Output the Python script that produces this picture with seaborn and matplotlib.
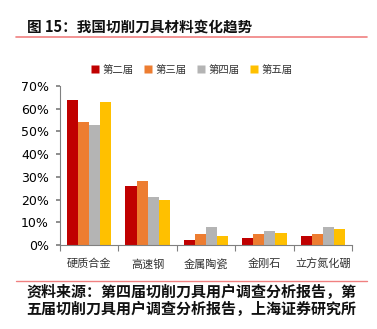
import matplotlib
matplotlib.use("Agg")
import matplotlib.pyplot as plt
import seaborn as sns
import pandas as pd
from matplotlib.lines import Line2D
from matplotlib.ticker import PercentFormatter, FixedLocator

categories = ["硬质合金", "高速钢", "金属陶瓷", "金刚石", "立方氮化硼"]
series = ["第二届", "第三届", "第四届", "第五届"]
v2 = [64, 26, 2, 3, 4]
v3 = [54, 28, 5, 5, 5]
v4 = [53, 21, 8, 6, 8]
v5 = [63, 20, 4, 5.5, 7]
colors = ["#C00000", "#ED7D31", "#B4B4B4", "#FFC000"]

rows = []
for s, vals in zip(series, [v2, v3, v4, v5]):
    for c, v in zip(categories, vals):
        rows.append({"cat": c, "ser": s, "val": v / 100})
df = pd.DataFrame(rows)

sns.set_theme(style="white")
plt.rcParams["font.family"] = ["Noto Sans CJK SC", "DejaVu Sans"]

W, H = 377, 329
fig = plt.figure(figsize=(W / 100, H / 100), dpi=100)
ax = fig.add_axes([60 / W, 1 - 245 / H, 292 / W, (245 - 86) / H])

sns.barplot(data=df, x="cat", y="val", hue="ser", palette=colors,
            width=0.76, gap=0, saturation=1, ax=ax, legend=False,
            edgecolor="none")

ax.set_ylim(0, 0.7)
ax.set_xlim(-0.5, 4.5)
ax.yaxis.set_major_formatter(PercentFormatter(1.0, decimals=0))
ax.set_yticks([i / 10 for i in range(8)])
ax.set_xlabel("")
ax.set_ylabel("")
for s in ["top", "right"]:
    ax.spines[s].set_visible(False)
ax.spines["left"].set_color("#808080")
ax.spines["bottom"].set_color("#808080")
ax.spines["left"].set_linewidth(0.8)
ax.spines["bottom"].set_linewidth(0.8)
ax.tick_params(axis="y", which="both", left=True, length=3, color="#808080",
               labelsize=9, pad=5, labelcolor="#000000")
ax.tick_params(axis="x", which="major", bottom=False, labelsize=8, pad=4,
               labelcolor="#333333")
ax.xaxis.set_minor_locator(FixedLocator([-0.5, 0.5, 1.5, 2.5, 3.5, 4.5]))
ax.tick_params(axis="x", which="minor", bottom=True, length=4, color="#808080",
               width=0.8)
for lbl in ax.get_yticklabels():
    lbl.set_family(["DejaVu Sans"])

# legend
handles = [Line2D([0], [0], marker="s", color="none", markerfacecolor=c,
                  markeredgecolor="none", markersize=6) for c in colors]
fig.legend(handles, series, loc="center", bbox_to_anchor=(192 / W, 1 - 70 / H),
           ncol=4, frameon=False, fontsize=7.5, handlelength=0.8,
           handletextpad=0.3, columnspacing=1.0, labelcolor="#333333")

# title
fig.text(27 / W, 1 - 28 / H, "图 15：我国切削刀具材料变化趋势", fontsize=10.5,
         fontweight="bold", va="center", ha="left", color="#111111")
fig.add_artist(Line2D([16 / W, 367 / W], [1 - 37 / H, 1 - 37 / H],
                      color="#F08080", lw=1.2, transform=fig.transFigure))

# footer
fig.add_artist(Line2D([16 / W, 367 / W], [1 - 281 / H, 1 - 281 / H],
                      color="#F08080", lw=1.0, transform=fig.transFigure))
fig.text(26 / W, 1 - 292 / H, "资料来源：第四届切削刀具用户调查分析报告，第",
         fontsize=10.8, fontweight="bold", style="italic", va="center",
         ha="left", color="#111111")
fig.text(26 / W, 1 - 309 / H, "五届切削刀具用户调查分析报告，上海证券研究所",
         fontsize=10.8, fontweight="bold", style="italic", va="center",
         ha="left", color="#111111")

fig.savefig("out.png", dpi=100)
